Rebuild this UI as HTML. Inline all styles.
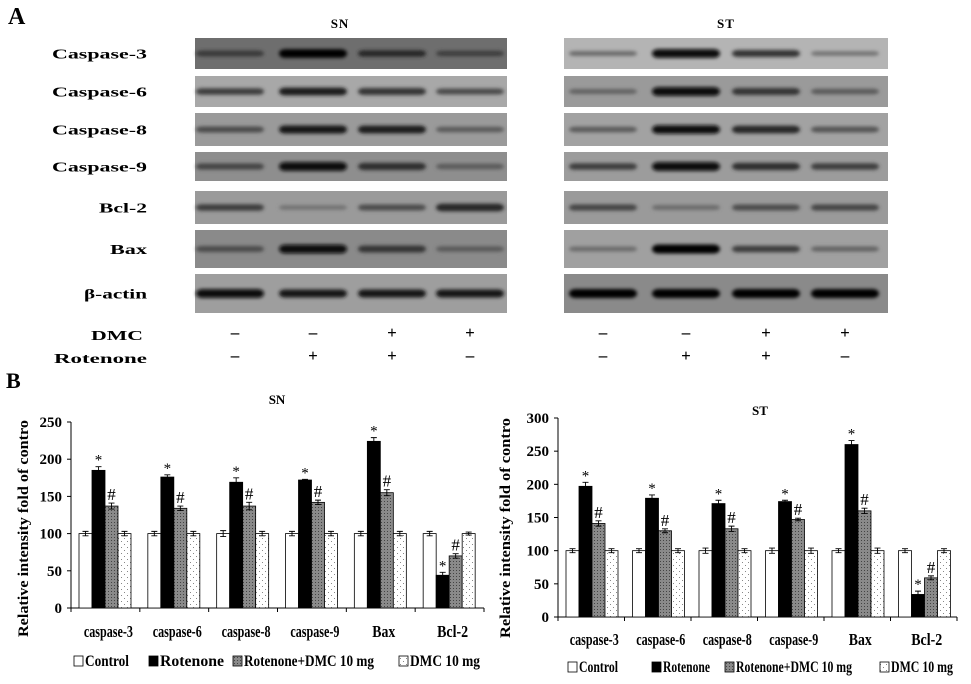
<!DOCTYPE html>
<html><head><meta charset="utf-8"><style>
html,body{margin:0;padding:0;background:#fff;}
svg{display:block;}
svg text{font-family:"Liberation Serif","Times New Roman",serif;}
</style></head><body>
<svg id="fig" width="971" height="684" viewBox="0 0 971 684" xmlns="http://www.w3.org/2000/svg" font-family="Liberation Serif, serif">
<defs>
<filter id="blur" x="-20%" y="-100%" width="140%" height="300%"><feGaussianBlur stdDeviation="1.8"/></filter>
<pattern id="hatch" width="3" height="3" patternUnits="userSpaceOnUse"><rect width="3" height="3" fill="#8a8a8a"/><rect width="1" height="1" fill="#444"/></pattern>
<pattern id="dots" width="6" height="6" patternUnits="userSpaceOnUse"><rect width="6" height="6" fill="#fff"/><rect x="1" y="1" width="1" height="1" fill="#888"/><rect x="4" y="4" width="1" height="1" fill="#888"/></pattern>
</defs>
<g id="blots"></g>
<g id="charts"></g>
</svg>
<script>
// ---- Blot data ----
const proteins = ["Caspase-3","Caspase-6","Caspase-8","Caspase-9","Bcl-2","Bax","β-actin"];
const snBand = [[0.45,0.95,0.6,0.4],[0.6,0.8,0.65,0.5],[0.5,0.85,0.8,0.4],[0.55,0.95,0.7,0.4],[0.6,0.25,0.5,0.75],[0.5,0.95,0.65,0.4],[0.95,0.85,0.85,0.85]];
const stBand = [[0.3,0.95,0.65,0.25],[0.35,0.95,0.65,0.4],[0.4,0.9,0.75,0.45],[0.6,0.95,0.7,0.6],[0.55,0.3,0.5,0.55],[0.3,1,0.6,0.35],[1,1,1,1]];
const snBg = ["#6e6e6e","#a8a8a8","#9a9a9a","#8e8e8e","#9a9a9a","#8a8a8a","#9e9e9e"];
const stBg = ["#b4b4b4","#9a9a9a","#a2a2a2","#9c9c9c","#9a9a9a","#a0a0a0","#8a8a8a"];
const dmcSigns = ["–","–","+","+"];
const rotSigns = ["–","+","+","–"];
// ---- Chart data ----
const categories = ["caspase-3","caspase-6","caspase-8","caspase-9","Bax","Bcl-2"];
const seriesNames = ["Control","Rotenone","Rotenone+DMC 10 mg","DMC 10 mg"];
const snControl = [100,100,100,100,100,100];
const snRotenone = [185,176,169,172,224,44];
const snRotDmc = [137,134,137,142,155,70];
const snDmc = [100,100,100,100,100,100];
const snErr = [[3,3,4,3,3,3],[5,3,6,1,5,4],[4,3,5,3,4,3],[3,3,3,3,3,2]];
const snTicks = [0,50,100,150,200,250];
const stControl = [100,100,100,100,100,100];
const stRotenone = [197,179,171,174,260,34];
const stRotDmc = [141,130,133,147,160,59];
const stDmc = [100,100,100,100,100,100];
const stErr = [[3,3,4,4,3,3],[6,5,5,2,6,5],[4,3,4,2,4,3],[3,3,3,4,4,3]];
const stTicks = [0,50,100,150,200,250,300];

const NS="http://www.w3.org/2000/svg";
const FF='"Liberation Serif", "Times New Roman", serif';
function mk(tag, attrs, parent, txt){const e=document.createElementNS(NS,tag);for(const k in attrs)e.setAttribute(k,attrs[k]);if(tag==='text'){e.setAttribute('font-family',FF);e.style.fontFamily=FF;}if(txt!==undefined)e.textContent=txt;parent.appendChild(e);return e;}

// ---- Blots ----
const blots=document.getElementById('blots');
const A=mk('text',{x:8,y:24,'font-size':24,'font-weight':'bold'},blots,'A');


const rowY=[[38,69],[76,107],[113,146],[152,181],[191,224],[230,268],[274,313]];
const snLanes=[230,313,392,470], stLanes=[603,686,766,845];
function panel(x0,x1,lanes,bands,bgs,title,tx){
  const t=mk('text',{x:tx,y:28,'font-size':13,'font-weight':'bold','text-anchor':'middle','letter-spacing':'1'},blots,title);
  
  
  rowY.forEach((r,i)=>{
    const g=mk('g',{},blots);
    
    
    mk('rect',{x:x0,y:r[0],width:x1-x0,height:r[1]-r[0],fill:bgs[i]},g);
    const cy=(r[0]+r[1])/2;
    bands[i].forEach((v,j)=>{
      const c=Math.round(bgs[i]==="#6e6e6e"?100-100*v:150-150*v);
      const b=mk('rect',{x:lanes[j]-34,y:cy-(1.5+3*v),width:68,height:3+6*v,rx:6,fill:`rgb(${c},${c},${c})`,filter:'url(#blur)'},g);
      
      
    });
  });
}
panel(195,507,snLanes,snBand,snBg,'SN',340);
panel(564,888,stLanes,stBand,stBg,'ST',726);
const protW=[95,95,95,95,48,37,63];
proteins.forEach((p,i)=>{
  const t=mk('text',{x:147,y:(rowY[i][0]+rowY[i][1])/2+5,'font-size':14,'font-weight':'bold','text-anchor':'end',textLength:protW[i],lengthAdjust:'spacingAndGlyphs'},blots,p);
  
  
});
[['DMC',340,dmcSigns,143,52],['Rotenone',363,rotSigns,147,93]].forEach(([lab,y,signs,lx,w])=>{
  const t=mk('text',{x:lx,y:y,'font-size':14,'font-weight':'bold','text-anchor':'end',textLength:w,lengthAdjust:'spacingAndGlyphs'},blots,lab);
  
  
  signs.forEach((s,j)=>{
    [snLanes[j]+(j===0?5:0),stLanes[j]].forEach(x=>{
      const st=mk('text',{x:x,y:y-2,'font-size':17,'font-weight':'bold','text-anchor':'middle'},blots,s);
      
      
    });
  });
});

// ---- Charts ----
const charts=document.getElementById('charts');
const Bl=mk('text',{x:6,y:388,'font-size':22,'font-weight':'bold'},charts,'B');


const fills=['#fff','#000','url(#hatch)','url(#dots)'];
const catW=[49,49,49,49,23,31];
function chart(cfg){
  const g=mk('g',{},charts);
  
  
  const ymax=cfg.ticks[cfg.ticks.length-1];
  const yS=v=>cfg.y0-(v/ymax)*(cfg.y0-cfg.yTop);
  const gw=(cfg.x1-cfg.x0)/categories.length;
  const t=mk('text',{x:cfg.titleX,y:cfg.titleY,'font-size':13,'font-weight':'bold','text-anchor':'middle'},g,cfg.title);
  
  
  mk('line',{x1:cfg.x0,y1:cfg.yTop,x2:cfg.x0,y2:cfg.y0,stroke:'#000','stroke-width':1},g);
  mk('line',{x1:cfg.x0,y1:cfg.y0,x2:cfg.x1,y2:cfg.y0,stroke:'#000','stroke-width':1},g);
  cfg.ticks.forEach(v=>{
    mk('line',{x1:cfg.x0-4,y1:yS(v),x2:cfg.x0,y2:yS(v),stroke:'#000'},g);
    const tl=mk('text',{x:cfg.x0-9,y:yS(v)+5,'font-size':15,'font-weight':'bold','text-anchor':'end'},g,v);
    
    
  });
  for(let i=0;i<=categories.length;i++){mk('line',{x1:cfg.x0+i*gw,y1:cfg.y0,x2:cfg.x0+i*gw,y2:cfg.y0+4,stroke:'#000'},g);}
  const yt=mk('text',{x:0,y:0,transform:`translate(${cfg.ytX},${cfg.ytBottom}) rotate(-90)`,'font-size':15,'font-weight':'bold','text-anchor':'start',textLength:cfg.ytLen,lengthAdjust:'spacingAndGlyphs'},g,'Relative intensity fold of contro');
  
  
  const bw=13, off=8;
  categories.forEach((c,i)=>{
    const gx=cfg.x0+i*gw;
    cfg.series.forEach((s,k)=>{
      const x=gx+off+k*bw, v=s[i];
      const r=mk('rect',{x:x,y:yS(v),width:bw,height:cfg.y0-yS(v),fill:fills[k],stroke:'#000','stroke-width':0.8},g);
      
      
      const e=cfg.err[k][i], cx=x+bw/2;
      mk('path',{d:`M${cx},${yS(v+e)}V${yS(v-e)}M${cx-3},${yS(v+e)}H${cx+3}M${cx-3},${yS(v-e)}H${cx+3}`,stroke:'#000','stroke-width':0.9,fill:'none'},g);
      if(k===1||k===2){
        const m=mk('text',{x:cx,y:yS(v+e)-(k===1?2:3),'font-size':k===1?15:17,'text-anchor':'middle'},g,k===1?'*':'#');
        
        
      }
    });
    const cl=mk('text',{x:gx+gw/2+3-catW[i]/2,y:cfg.labY,'font-size':17,'font-weight':'bold','text-anchor':'start',textLength:catW[i],lengthAdjust:'spacingAndGlyphs'},g,c);
    
    
  });
  cfg.legX.forEach((lx,k)=>{
    const le=mk('g',{},g);
    
    
    mk('rect',{x:lx,y:cfg.legY-10,width:9,height:10,fill:fills[k],stroke:'#000','stroke-width':0.8},le);
    mk('text',{x:lx+11,y:cfg.legY,'font-size':16,'font-weight':'bold',textLength:cfg.legW[k],lengthAdjust:'spacingAndGlyphs'},le,seriesNames[k]);
  });
}
chart({name:'sn-chart',title:'SN',titleX:277,titleY:404,x0:71,x1:484,y0:608,yTop:422,ticks:snTicks,
  series:[snControl,snRotenone,snRotDmc,snDmc],err:snErr,ytX:28,ytBottom:637,ytLen:217,labY:637,legY:666,legX:[74,149,233,399],legW:[44,64,130,70]});
chart({name:'st-chart',title:'ST',titleX:760,titleY:415,x0:558,x1:957,y0:617,yTop:418,ticks:stTicks,
  series:[stControl,stRotenone,stRotDmc,stDmc],err:stErr,ytX:510,ytBottom:638,ytLen:220,labY:645,legY:672,legX:[568,652,725,880],legW:[39,47,116,62]});
</script>
</body></html>
